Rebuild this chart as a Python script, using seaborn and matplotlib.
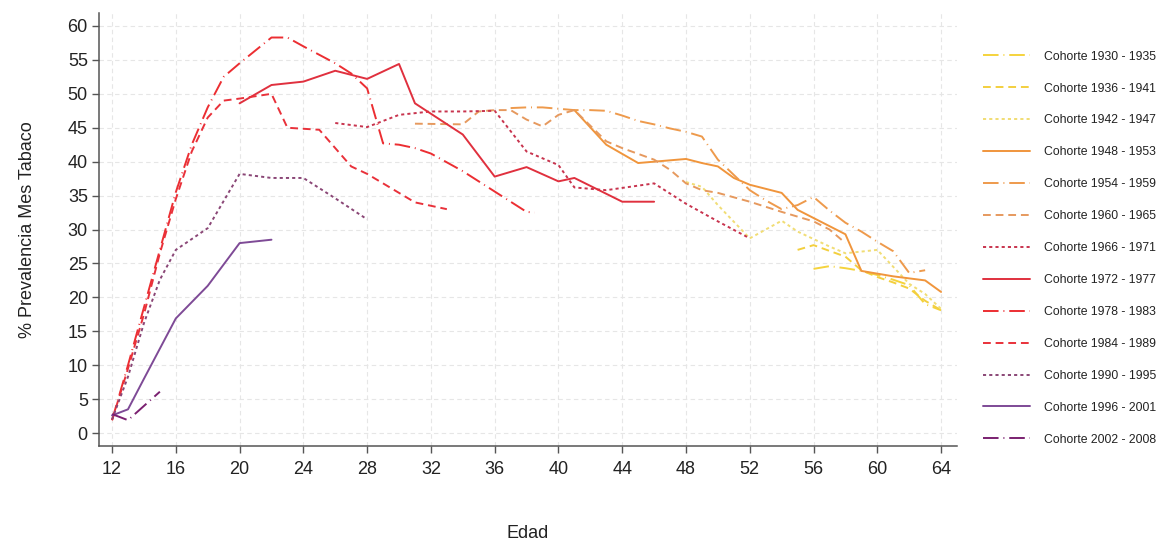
import matplotlib
matplotlib.use("Agg")
import matplotlib.pyplot as plt
import numpy as np
import pandas as pd
import seaborn as sns

# Smoking prevalence in the last month (%) by age, one series per birth cohort
cohorts = [
    "Cohorte 1930 - 1935", "Cohorte 1936 - 1941", "Cohorte 1942 - 1947",
    "Cohorte 1948 - 1953", "Cohorte 1954 - 1959", "Cohorte 1960 - 1965",
    "Cohorte 1966 - 1971", "Cohorte 1972 - 1977", "Cohorte 1978 - 1983",
    "Cohorte 1984 - 1989", "Cohorte 1990 - 1995", "Cohorte 1996 - 2001",
    "Cohorte 2002 - 2008",
]

age_1930 = [56, 57, 58, 59, 60, 61, 62, 63, 64]
prev_1930 = [24.2, 24.6, 24.3, 23.9, 23.3, 22.6, 21.8, 19.0, 18.1]

age_1936 = [55, 56, 58, 59, 60, 61, 62, 63, 64]
prev_1936 = [27.0, 27.7, 26.0, 24.0, 23.0, 22.2, 21.3, 19.5, 18.1]

age_1942 = [48, 49, 50, 52, 54, 55, 57, 58, 60, 61, 62, 63, 64]
prev_1942 = [37.0, 36.3, 33.6, 28.7, 31.3, 29.7, 27.5, 26.5, 27.0, 24.5, 22.0, 20.5, 18.3]

age_1948 = [41, 43, 45, 48, 49, 50, 51, 52, 54, 55, 58, 59, 61, 63, 64]
prev_1948 = [47.6, 42.5, 39.8, 40.4, 39.8, 39.3, 37.6, 36.6, 35.4, 32.9, 29.3, 23.9, 23.1, 22.5, 20.8]

age_1954 = [37, 38, 39, 40, 41, 42, 43, 44, 45, 46, 47, 48, 49, 50, 52, 53, 54, 55, 56, 57, 58, 59, 60, 61, 62, 63]
prev_1954 = [47.9, 48.0, 48.0, 47.8, 47.6, 47.6, 47.5, 46.8, 46.0, 45.5, 44.9, 44.4, 43.7,
             40.3, 35.8, 34.3, 33.0, 33.6, 34.8, 32.8, 31.0, 29.7, 28.2, 26.8, 23.6, 24.0]

age_1960 = [31, 34, 35, 36, 37, 38, 39, 40, 41, 43, 44, 46, 47, 48, 49, 50, 52, 54, 56, 57, 58]
prev_1960 = [45.6, 45.5, 47.4, 47.6, 47.6, 46.2, 45.2, 46.9, 47.6, 43.0, 42.0, 40.3, 38.8,
             36.8, 35.8, 35.4, 34.1, 32.6, 31.2, 30.0, 28.0]

age_1966 = [26, 28, 30, 32, 34, 36, 38, 39, 40, 41, 43, 46, 48, 50, 52]
prev_1966 = [45.7, 45.1, 46.9, 47.4, 47.4, 47.5, 41.5, 40.5, 39.5, 36.2, 35.8, 36.8, 33.8, 31.2, 28.7]

age_1972 = [20, 22, 24, 26, 28, 30, 31, 34, 36, 38, 40, 41, 44, 46]
prev_1972 = [48.6, 51.3, 51.8, 53.4, 52.2, 54.4, 48.6, 44.0, 37.8, 39.2, 37.1, 37.6, 34.1, 34.1]

age_1978 = [12, 13, 14, 15, 16, 17, 18, 19, 20, 22, 23, 24, 26, 27, 28, 29, 30, 31, 32, 34, 36, 38, 38.5]
prev_1978 = [1.9, 10.0, 18.5, 27.0, 35.5, 42.5, 48.0, 52.5, 54.5, 58.3, 58.3, 57.0, 54.5,
             53.0, 50.8, 42.7, 42.5, 42.0, 41.2, 38.6, 35.6, 32.6, 32.5]

age_1984 = [12, 13, 14, 15, 16, 17, 18, 19, 20, 22, 23, 25, 27, 28, 30, 31, 33]
prev_1984 = [1.9, 9.5, 17.5, 26.5, 34.5, 41.5, 46.5, 49.0, 49.3, 50.0, 45.0, 44.7, 39.3, 38.2, 35.4, 34.0, 33.0]

age_1990 = [12, 13, 14, 15, 16, 18, 20, 22, 24, 26, 28]
prev_1990 = [2.0, 8.3, 16.2, 22.6, 27.0, 30.2, 38.2, 37.6, 37.6, 34.6, 31.5]

age_1996 = [12, 13, 14, 16, 18, 20, 22]
prev_1996 = [2.6, 3.5, 8.0, 16.9, 21.7, 28.0, 28.5]

age_2002 = [12, 13, 14, 15]
prev_2002 = [2.8, 1.9, 4.0, 6.1]

ages = [age_1930, age_1936, age_1942, age_1948, age_1954, age_1960, age_1966,
        age_1972, age_1978, age_1984, age_1990, age_1996, age_2002]
prevs = [prev_1930, prev_1936, prev_1942, prev_1948, prev_1954, prev_1960, prev_1966,
         prev_1972, prev_1978, prev_1984, prev_1990, prev_1996, prev_2002]

colors = ["#F5D33C", "#F3CF3E", "#F1DD74", "#F0953C", "#EE9A4C", "#E6995E", "#C8344E",
          "#E0303E", "#EC2E32", "#E9313A", "#8A4676", "#7E4A96", "#7A2070"]

# four line patterns repeat across the cohorts: long dash, dash, short dash, solid
long_dash = (8, 2.5, 0.5, 2.5)
dash = (4, 2.5)
short_dash = (1.6, 1.6)
solid = ""
pattern_cycle = [long_dash, dash, short_dash, solid]

df = pd.concat(
    [pd.DataFrame({"Edad": a, "Prev": p, "Cohorte": c}) for a, p, c in zip(ages, prevs, cohorts)],
    ignore_index=True,
)
palette = dict(zip(cohorts, colors))
dashes = {c: pattern_cycle[i % 4] for i, c in enumerate(cohorts)}

sns.set_theme(style="white")
plt.rcParams["font.family"] = ["Liberation Sans", "DejaVu Sans"]

fig = plt.figure(figsize=(11.63, 5.45), dpi=100)
ax = fig.add_axes([0.0851, 0.1817, 0.7378, 0.7943])

sns.lineplot(data=df, x="Edad", y="Prev", hue="Cohorte", style="Cohorte",
             hue_order=cohorts, style_order=cohorts, palette=palette, dashes=dashes,
             estimator=None, sort=True, linewidth=1.4, ax=ax)

ax.set_xlim(11.18, 65.0)
ax.set_ylim(-1.9, 61.9)
ax.set_xticks(np.arange(12, 65, 4))
ax.set_yticks(np.arange(0, 61, 5))
ax.grid(True, color="#E6E6E6", linestyle=(0, (4, 3)), linewidth=0.8)
ax.set_axisbelow(True)

for side in ["top", "right"]:
    ax.spines[side].set_visible(False)
for side in ["left", "bottom"]:
    ax.spines[side].set_color("#555555")
    ax.spines[side].set_linewidth(1.1)

ax.tick_params(axis="both", which="both", direction="out", length=5, width=1.0,
               color="#555555", labelsize=13, labelcolor="#222222", pad=3,
               bottom=True, left=True)
ax.tick_params(axis="x", pad=6)

ax.set_xlabel("Edad", fontsize=13, color="#222222", labelpad=34)
ax.set_ylabel("% Prevalencia Mes Tabaco", fontsize=13, color="#222222", labelpad=23)

leg = ax.get_legend()
handles = leg.legend_handles
labels = [t.get_text() for t in leg.get_texts()]
leg.remove()
for h in handles:
    h.set_linewidth(1.4)

fig.legend(handles, labels, loc="upper left", bbox_to_anchor=(0.8452, 0.9071),
           frameon=False, fontsize=8.8, handlelength=3.86, handletextpad=1.14,
           labelspacing=1.63, borderpad=0, borderaxespad=0, labelcolor="#222222")

fig.savefig("out.png", dpi=100, facecolor="white")
